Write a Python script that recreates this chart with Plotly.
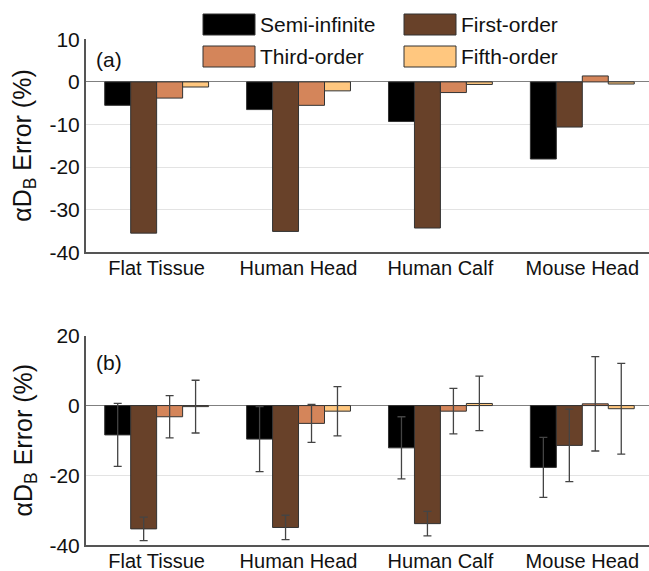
import plotly.graph_objects as go

categories = ["Flat Tissue", "Human Head", "Human Calf", "Mouse Head"]
series_names = ["Semi-infinite", "First-order", "Third-order", "Fifth-order"]
colors = ["#000000", "#684129", "#D4855A", "#FFC77F"]

# Panel (a)
a_semi = [-5.5, -6.5, -9.3, -18.1]
a_first = [-35.5, -35.1, -34.3, -10.6]
a_third = [-3.8, -5.5, -2.5, 1.4]
a_fifth = [-1.2, -2.1, -0.6, -0.5]

# Panel (b) with error bars
b_semi = [-8.4, -9.6, -12.1, -17.7]
b_first = [-35.3, -34.9, -33.8, -11.4]
b_third = [-3.2, -5.1, -1.6, 0.5]
b_fifth = [-0.3, -1.6, 0.6, -0.9]
b_semi_err = [9.0, 9.3, 8.9, 8.6]
b_first_err = [3.35, 3.5, 3.5, 10.4]
b_third_err = [6.05, 5.45, 6.5, 13.5]
b_fifth_err = [7.55, 7.05, 7.8, 13.0]

a_ticks = [10, 0, -10, -20, -30, -40]
b_ticks = [20, 0, -20, -40]

FONT = "Liberation Sans, Arial, sans-serif"
W, H = 649, 571

fig = go.Figure()

a_vals = [a_semi, a_first, a_third, a_fifth]
b_vals = [b_semi, b_first, b_third, b_fifth]
b_errs = [b_semi_err, b_first_err, b_third_err, b_fifth_err]

for name, vals, col in zip(series_names, a_vals, colors):
    fig.add_trace(go.Bar(x=categories, y=vals, name=name, marker=dict(color=col, line=dict(color="#333333", width=1)),
                         xaxis="x", yaxis="y", showlegend=False))
for name, vals, errs, col in zip(series_names, b_vals, b_errs, colors):
    fig.add_trace(go.Bar(x=categories, y=vals, name=name, marker=dict(color=col, line=dict(color="#333333", width=1)),
                         error_y=dict(type="data", array=errs, visible=True, color="#444444", thickness=1.3, width=4),
                         xaxis="x2", yaxis="y2", showlegend=False))

xdom = [85.7 / W, 1.0]
ydom_a = [1 - 252.3 / H, 1 - 39.3 / H]
ydom_b = [1 - 545.3 / H, 1 - 335.7 / H]

axis_common = dict(
    showgrid=True, gridcolor="#e3e3e3", gridwidth=1,
    zeroline=True, zerolinecolor="#808080", zerolinewidth=1.3,
    showline=True, linecolor="#555555", linewidth=1.5,
    tickfont=dict(family=FONT, size=21, color="#111111"),
    ticks="", automargin=False,
)
xcommon = dict(
    showgrid=False, zeroline=False, showline=True, linecolor="#555555", linewidth=1.5,
    tickfont=dict(family=FONT, size=20, color="#111111"),
    ticks="", ticklabelstandoff=-3, range=[-0.5, 3.47], automargin=False,
)

title_text = "\u03b1D<sub>B</sub> Error (%)"

fig.update_layout(
    width=W, height=H,
    margin=dict(l=0, r=0, t=0, b=0),
    paper_bgcolor="white", plot_bgcolor="white",
    barmode="group", bargap=0.268, bargroupgap=0,
    font=dict(family=FONT, size=21, color="#111111"),
    xaxis=dict(domain=xdom, anchor="y", **xcommon),
    xaxis2=dict(domain=xdom, anchor="y2", **xcommon),
    yaxis=dict(domain=ydom_a, anchor="x", range=[-40, 10], tickvals=a_ticks,
               ticktext=[str(t) for t in a_ticks], **axis_common),
    yaxis2=dict(domain=ydom_b, anchor="x2", range=[-40, 20], tickvals=b_ticks,
                ticktext=[str(t) for t in b_ticks], **axis_common),
)

# y-axis titles
for yc in [(ydom_a[0] + ydom_a[1]) / 2, (ydom_b[0] + ydom_b[1]) / 2]:
    fig.add_annotation(text=title_text, x=24 / W, y=yc, xref="paper", yref="paper",
                       textangle=-90, showarrow=False, xanchor="center", yanchor="middle",
                       font=dict(family=FONT, size=25, color="#111111"))

# panel labels
fig.add_annotation(text="(a)", x=94 / W, y=1 - 59 / H, xref="paper", yref="paper", showarrow=False,
                   xanchor="left", yanchor="middle", font=dict(family=FONT, size=21, color="#111111"))
fig.add_annotation(text="(b)", x=94 / W, y=1 - 362 / H, xref="paper", yref="paper", showarrow=False,
                   xanchor="left", yanchor="middle", font=dict(family=FONT, size=21, color="#111111"))

# legend (drawn manually with large swatches)
leg_pos = [(203, 14), (404, 14), (203, 46), (404, 46)]
sw_w, sw_h = 52, 21
for (px, py), name, col in zip(leg_pos, series_names, colors):
    fig.add_shape(type="rect", xref="paper", yref="paper",
                  x0=px / W, x1=(px + sw_w) / W, y0=1 - (py + sw_h) / H, y1=1 - py / H,
                  fillcolor=col, line=dict(color="#333333", width=1))
    fig.add_annotation(text=name, x=(px + sw_w + 3) / W, y=1 - (py + sw_h / 2) / H,
                       xref="paper", yref="paper", showarrow=False, xanchor="left", yanchor="middle",
                       font=dict(family=FONT, size=21, color="#111111"))

fig.write_html("out.html", config={"displayModeBar": False},
               post_script="document.body.style.margin='0px';document.body.style.overflow='hidden';")
